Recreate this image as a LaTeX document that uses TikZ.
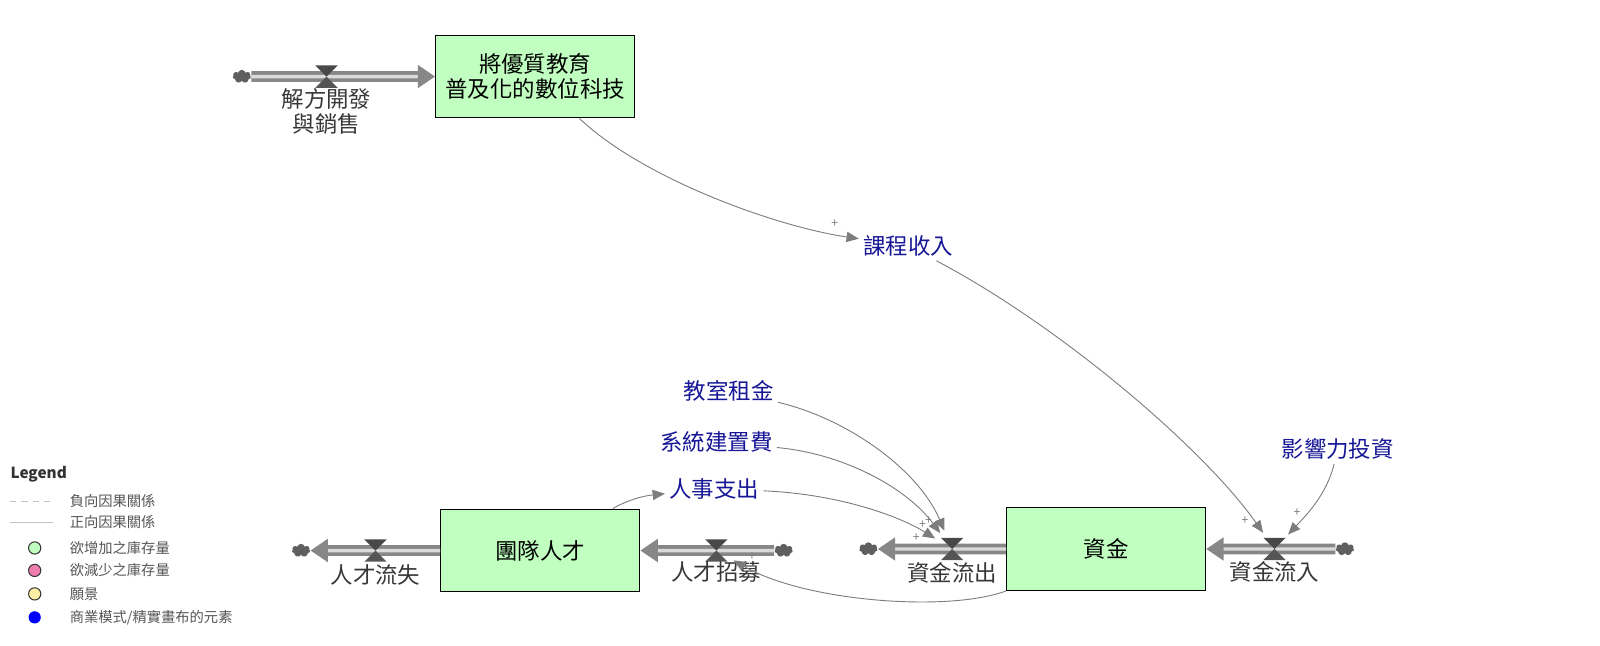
\documentclass[tikz,border=0pt]{standalone}
\usepackage{fontspec}
\setmainfont{Noto Sans CJK TC}
\usetikzlibrary{arrows.meta,shapes.symbols,positioning}

\definecolor{stockgreen}{RGB}{192,255,192}
\definecolor{auxblue}{RGB}{22,22,150}
\definecolor{flowgray}{RGB}{55,55,55}
\definecolor{pipegray}{RGB}{135,135,135}
\definecolor{pipelight}{RGB}{218,218,218}
\definecolor{valvegray}{RGB}{85,85,85}
\definecolor{cloudgray}{RGB}{95,95,95}
\definecolor{linkgray}{RGB}{125,125,125}
\definecolor{lgdgray}{RGB}{85,85,85}
\definecolor{lgdline}{RGB}{195,195,195}
\definecolor{lgdpink}{RGB}{240,125,175}
\definecolor{lgdyellow}{RGB}{255,240,165}
\definecolor{lgdblue}{RGB}{0,0,255}

\newcommand\lbl{\fontsize{11}{12.5}\selectfont}
\newcommand\lgd{\fontsize{7}{8}\selectfont}

\tikzset{
  stock/.style={draw=black, line width=0.6pt, fill=stockgreen, minimum width=97.5pt,
    minimum height=40.5pt, align=center, font=\lbl},
  aux/.style={text=auxblue, inner sep=2pt, font=\lbl},
  flowname/.style={text=flowgray, align=center, inner sep=0pt, font=\fontsize{11}{12}\selectfont},
  valvept/.style={circle, minimum size=19pt, inner sep=0pt},
  cloudpt/.style={cloud, cloud puffs=7, fill=cloudgray, minimum width=9pt, minimum height=6.5pt, inner sep=0pt},
  pipe/.style={draw=pipegray, line width=1.8pt, double=pipelight, double distance=1.7pt,
    -{Triangle[length=8.5pt,width=11pt,fill=pipegray]}},
  link/.style={draw=linkgray, line width=0.45pt, -{Triangle[length=6pt,width=5pt]}},
  plus/.style={text=linkgray, inner sep=0pt, font=\fontsize{6}{6}\selectfont},
  lgdtext/.style={text=lgdgray, anchor=west, inner sep=0pt, font=\lgd},
  valve/.pic={
    \fill[valvegray!85!black] (-11,-11) -- (11,-11) -- (0,0) -- cycle;
    \fill[valvegray] (-11,11) -- (11,11) -- (0,0) -- cycle;
  }
}

\begin{document}
\begin{tikzpicture}[x=0.5pt,y=-0.5pt]
  \useasboundingbox (0,0) rectangle (1568,633);

  % stocks
  \begin{scope}[every node/.style={stock}]
    \node (S1) at (524.5,75) {將優質教育\\普及化的數位科技};
    \node (S2) at (529.5,539.5) {團隊人才};
    \node (S3) at (1084,538) {資金};
  \end{scope}

  % valves and clouds
  \begin{scope}[every node/.style={valvept}]
    \node (V1) at (320,75) {};
    \node (V2) at (368,539.5) {};
    \node (V3) at (702,539.5) {};
    \node (V4) at (933,538) {};
    \node (V5) at (1249,538) {};
  \end{scope}
  \begin{scope}[every node/.style={cloudpt}]
    \node (C1) at (237,75) {};
    \node (C2) at (295,539.5) {};
    \node (C3) at (768,539.5) {};
    \node (C4) at (851,538) {};
    \node (C5) at (1318,538) {};
  \end{scope}

  % pipes
  \draw[pipe] (C1) -- (S1);
  \draw[pipe] (S2) -- (C2);
  \draw[pipe] (C3) -- (S2);
  \draw[pipe] (S3) -- (C4);
  \draw[pipe] (C5) -- (S3);
  \foreach \v in {V1,V2,V3,V4,V5}
    \pic at (\v) {valve};

  % flow names
  \begin{scope}[every node/.style={flowname}]
    \node (N1) at (320,109) {解方開發\\與銷售};
    \node (N2) at (368,563) {人才流失};
    \node (N3) at (702,561) {人才招募};
    \node (N4) at (933,561) {資金流出};
    \node (N5) at (1249,560) {資金流入};
  \end{scope}

  % converters
  \begin{scope}[every node/.style={aux}]
    \node (A1) at (890,241) {課程收入};
    \node (A2) at (1311,440) {影響力投資};
    \node (A3) at (714,383) {教室租金};
    \node (A4) at (702,433) {系統建置費};
    \node (A5) at (700,479) {人事支出};
  \end{scope}

  % causal links
  \draw[link] (S1) .. controls (630,175) and (760,222) .. (A1);
  \draw[link] (A1) .. controls (1040,320) and (1180,440) .. (V5);
  \draw[link] (A2) .. controls (1300,485) and (1280,505) .. (V5);
  \draw[link] (A3) .. controls (830,410) and (900,460) .. (V4);
  \draw[link] (A4) .. controls (830,445) and (890,480) .. (V4);
  \draw[link] (A5) .. controls (820,484) and (880,505) .. (V4);
  \draw[link] (S2) .. controls (615,490) and (630,486) .. (A5);
  \draw[link] (S3.south west) .. controls (930,600) and (790,590) .. (V3);
  \foreach \x/\y [count=\i] in {818/219,1220/510,1271/502,904/514,910/510,898/527,737/546}
    \node[plus] (p\i) at (\x,\y) {+};

  % legend
  \node[lgdtext, text=black!80, font=\fontsize{7.5}{8}\selectfont\bfseries] (L0) at (10,465) {Legend};
  \draw[lgdline, dash pattern=on 3pt off 2.5pt] (10,491) -- (52,491);
  \draw[lgdline] (10,512) -- (52,512);
  \draw[black!80, line width=0.5pt, fill=stockgreen] (34,537) circle[radius=3pt];
  \draw[black!80, line width=0.5pt, fill=lgdpink] (34,559) circle[radius=3pt];
  \draw[black!80, line width=0.5pt, fill=lgdyellow] (34,582) circle[radius=3pt];
  \fill[lgdblue] (34,605) circle[radius=3pt];
  \node[lgdtext] (L1) at (68,491) {負向因果關係};
  \node[lgdtext] (L2) at (68,512) {正向因果關係};
  \node[lgdtext] (L3) at (68,537) {欲增加之庫存量};
  \node[lgdtext] (L4) at (68,559) {欲減少之庫存量};
  \node[lgdtext] (L5) at (68,582) {願景};
  \node[lgdtext] (L6) at (68,605) {商業模式/精實畫布的元素};
\end{tikzpicture}
\end{document}
